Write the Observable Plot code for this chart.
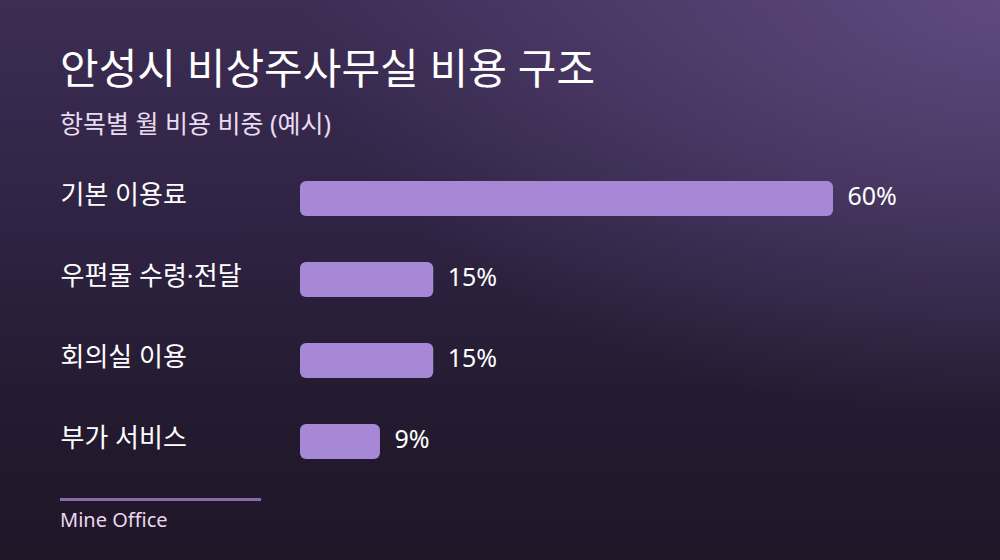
<!DOCTYPE html>
<html><head><meta charset="utf-8">
<script src="https://cdn.jsdelivr.net/npm/d3@7"></script>
<script src="https://cdn.jsdelivr.net/npm/@observablehq/plot@0.6"></script>
<style>
html,body{margin:0;padding:0;}
body{width:1000px;height:560px;overflow:hidden;font-family:"Noto Sans","Noto Sans CJK KR",sans-serif;}
#wrap{position:relative;width:1000px;height:560px;
background:radial-gradient(ellipse 70% 75% at 100% 0%, rgba(108,86,145,0.7), rgba(108,86,145,0) 100%),
linear-gradient(180deg,#3d2d55 0%,#2f2343 40%,#251b31 70%,#1f1628 100%);}
#title{position:absolute;left:60px;top:43px;font-size:42px;font-weight:400;color:#ffffff;line-height:1.2;white-space:nowrap;}
#subtitle{position:absolute;left:60px;top:108px;font-size:25px;color:#e8dcf2;line-height:1.2;white-space:nowrap;}
#chart{position:absolute;left:0;top:160px;}
#rule{position:absolute;left:60px;top:498px;width:201px;height:3px;background:#8a6aab;}
#caption{position:absolute;left:60px;top:508px;font-size:20px;color:#ecd8ee;line-height:1.2;white-space:nowrap;}
</style></head>
<body><div id="wrap">
<div id="title">안성시 비상주사무실 비용 구조</div>
<div id="subtitle">항목별 월 비용 비중 (예시)</div>
<div id="chart"></div>
<div id="rule"></div>
<div id="caption">Mine Office</div>
</div>
<script>
const categories = ["기본 이용료", "우편물 수령·전달", "회의실 이용", "부가 서비스"];
const values = [60, 15, 15, 9];
const labels = ["60%", "15%", "15%", "9%"];

const data = categories.map((c, i) => ({category: c, value: values[i], label: labels[i]}));

const chart = Plot.plot({
  width: 1000,
  height: 320,
  marginLeft: 300,
  marginRight: 167,
  marginTop: 19,
  marginBottom: 20,
  style: {background: "transparent", fontFamily: "'Noto Sans','Noto Sans CJK KR',sans-serif", overflow: "visible"},
  x: {domain: [0, 60], axis: null},
  y: {domain: categories, axis: null, paddingInner: 0.573, paddingOuter: 0},
  marks: [
    Plot.barX(data, {x: "value", y: "category", fill: "#a788d6", rx: 6}),
    Plot.text(data, {x: 0, y: "category", text: "category", textAnchor: "start", dx: -240, dy: -3, fontSize: 26, fill: "#ffffff"}),
    Plot.text(data, {x: "value", y: "category", text: "label", textAnchor: "start", dx: 14, dy: -2, fontSize: 25, fill: "#ffffff"})
  ]
});
document.getElementById("chart").appendChild(chart);
</script>
</body></html>
